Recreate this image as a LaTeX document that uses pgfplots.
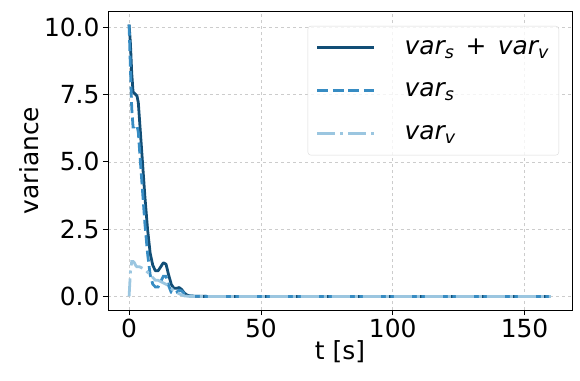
\documentclass[border=0pt]{standalone}
\usepackage{pgfplots}
\pgfplotsset{compat=1.18}
\usepackage{fontspec}
\setmainfont{DejaVu Sans}
\definecolor{cdark}{RGB}{18,78,118}
\definecolor{cmid}{RGB}{55,140,195}
\definecolor{clight}{RGB}{155,198,224}

% variance of the two parts and their sum
\pgfplotstableread{
t     tot    vs     vv
0     10.10  10.10  0.00
0.5   9.40   8.50   0.90
1     8.30   7.00   1.30
1.5   7.60   6.30   1.30
2     7.55   6.30   1.25
2.5   7.50   6.35   1.15
3     7.45   6.35   1.10
3.5   7.20   6.10   1.10
4     6.50   5.40   1.10
5     5.10   4.05   1.05
6     3.70   2.70   1.00
7     2.50   1.60   0.90
8     1.60   0.80   0.80
9     1.15   0.45   0.70
10    0.95   0.35   0.60
11    0.95   0.35   0.60
12    1.10   0.55   0.55
13    1.25   0.75   0.50
14    1.20   0.75   0.45
15    0.80   0.40   0.40
16    0.45   0.15   0.30
17    0.30   0.10   0.20
18    0.30   0.15   0.15
19    0.33   0.23   0.10
20    0.25   0.20   0.05
21    0.12   0.10   0.02
22    0.05   0.04   0.01
23    0.02   0.02   0.00
25    0.005  0.005  0.00
30    0.00   0.00   0.00
160   0.00   0.00   0.00
}\vardata

\begin{document}
\begin{tikzpicture}
\begin{axis}[
    scale only axis,
    width=464bp, height=299bp,
    xmin=-8, xmax=168,
    ymin=-0.505, ymax=10.605,
    xtick={0,50,100,150},
    ytick={0,2.5,5,7.5,10},
    yticklabel style={/pgf/number format/.cd, fixed, fixed zerofill, precision=1},
    /pgf/number format/assume math mode=true,
    tick label style={font=\fontsize{25}{30}\selectfont},
    label style={font=\fontsize{25}{30}\selectfont},
    xlabel={t [s]},
    ylabel={variance},
    xlabel style={yshift=4bp},
    ylabel style={yshift=-2bp},
    tick align=outside,
    major tick length=5bp,
    tick style={black, line width=0.8pt},
    axis line style={line width=0.8pt},
    xtick pos=bottom, ytick pos=left,
    grid=major,
    grid style={dashed, gray!40, line width=0.6pt},
    legend cell align=left,
    legend image code/.code={\draw[#1] (0bp,0bp) -- (57bp,0bp);},
    legend style={at={(0.972,0.95)}, anchor=north east,
        draw=gray!30, rounded corners=3pt, fill=white, fill opacity=0.8,
        text opacity=1, font=\fontsize{25}{30}\selectfont,
        inner xsep=8bp, inner ysep=0bp,
        nodes={minimum height=43bp},
        /tikz/every odd column/.append style={column sep=27bp}},
]
\addplot[cdark, line width=2.8pt, line join=round] table[x=t, y=tot] {\vardata};
\addlegendentry{{\itshape var\textsubscript{s}}\hspace{0.45em}+\hspace{0.45em}{\itshape var\textsubscript{v}}}
\addplot[cmid, line width=2.8pt, dash pattern=on 11bp off 4.5bp] table[x=t, y=vs] {\vardata};
\addlegendentry{{\itshape var\textsubscript{s}}}
\addplot[clight, line width=2.8pt, dash pattern=on 18bp off 5bp on 3bp off 5bp] table[x=t, y=vv] {\vardata};
\addlegendentry{{\itshape var\textsubscript{v}}}
\end{axis}
\pgfresetboundingbox
\path (current axis.south west) ++(-108bp,-71bp) coordinate (bbl);
\path (current axis.north east) ++(8bp,11bp) coordinate (bbr);
\path[use as bounding box] (bbl) rectangle (bbr);
\end{tikzpicture}
\end{document}
